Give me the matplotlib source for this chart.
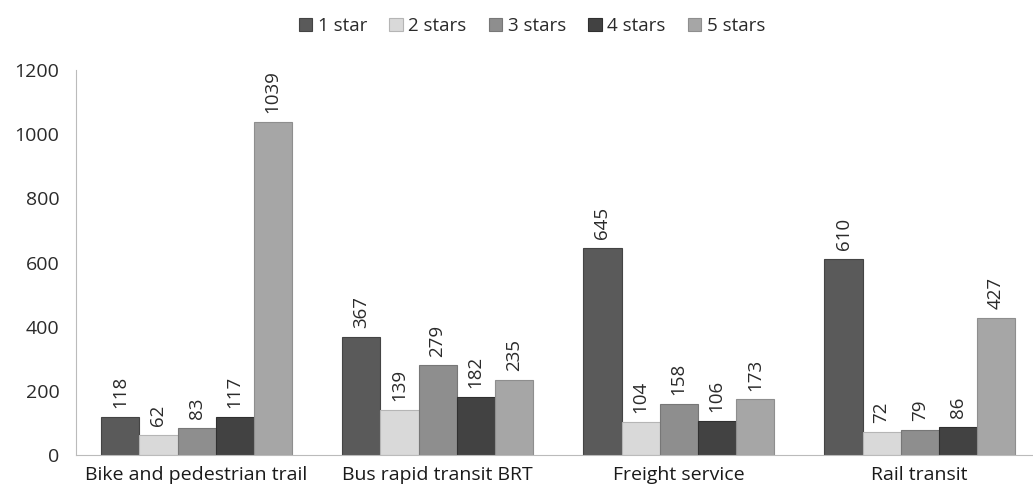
import matplotlib.pyplot as plt
import numpy as np

plt.rcParams['font.family'] = ['Open Sans', 'DejaVu Sans']

# Given data
categories = ['Bike and pedestrian trail', 'Bus rapid transit BRT', 'Freight service', 'Rail transit']
series_names = ['1 star', '2 stars', '3 stars', '4 stars', '5 stars']
one_star = [118, 367, 645, 610]
two_stars = [62, 139, 104, 72]
three_stars = [83, 279, 158, 79]
four_stars = [117, 182, 106, 86]
five_stars = [1039, 235, 173, 427]

series = [one_star, two_stars, three_stars, four_stars, five_stars]
colors = ['#5a5a5a', '#d9d9d9', '#8e8e8e', '#424242', '#a6a6a6']
edges = ['#444444', '#b5b5b5', '#777777', '#303030', '#8e8e8e']

fig = plt.figure(figsize=(10.33, 4.96), dpi=100)
ax = fig.add_axes([0.0736, 0.0827, 0.9264, 0.776])

x = np.arange(len(categories))
width = 0.158
for i, (vals, name) in enumerate(zip(series, series_names)):
    pos = x + (i - 2) * width
    bars = ax.bar(pos, vals, width, color=colors[i], edgecolor=edges[i], linewidth=0.8, label=name)
    for b, v in zip(bars, vals):
        ax.text(b.get_x() + b.get_width() / 2, v + 28, str(v), rotation=90,
                ha='center', va='bottom', fontsize=13.5, color='#2a2a2a')

ax.set_xlim(-0.5, 3.47)
ax.set_ylim(0, 1200)
ax.set_yticks(range(0, 1201, 200))
ax.set_xticks(x)
ax.set_xticklabels(categories)
ax.tick_params(axis='y', length=0, labelsize=14, colors='#2a2a2a', pad=12)
ax.tick_params(axis='x', length=0, labelsize=14, colors='#1a1a1a', pad=8)
for s in ['top', 'right']:
    ax.spines[s].set_visible(False)
ax.spines['left'].set_color('#bbbbbb')
ax.spines['bottom'].set_color('#bbbbbb')

fig.legend(loc='upper center', bbox_to_anchor=(0.515, 1.0), ncol=5, frameon=False,
           fontsize=13.5, handlelength=0.7, handleheight=0.7, handletextpad=0.3,
           columnspacing=1.2, labelcolor='#2a2a2a')

fig.savefig('out.png', dpi=100)
